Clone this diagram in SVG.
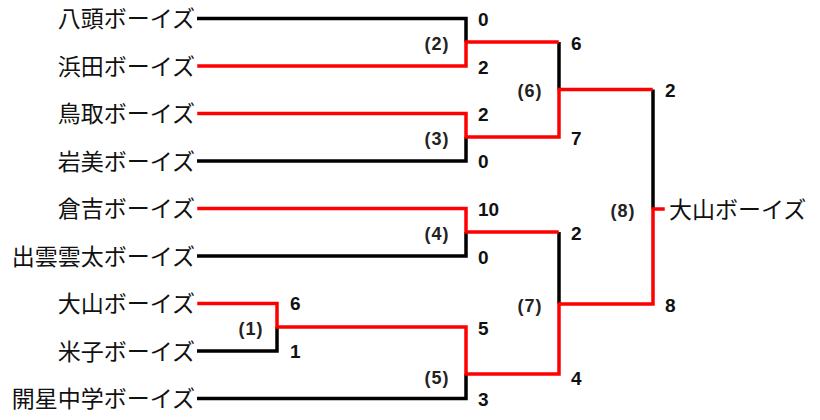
<svg xmlns="http://www.w3.org/2000/svg" width="820" height="420" viewBox="0 0 820 420">
<style>
.team{font-family:"Noto Sans CJK JP","Noto Sans",sans-serif;font-size:23px;fill:#111}
.tl{text-anchor:end}
.score{font-family:"Liberation Sans","Noto Sans",sans-serif;font-size:19px;font-weight:bold;fill:#111}
.match{font-family:"Liberation Sans","Noto Sans",sans-serif;font-size:18px;font-weight:bold;fill:#222;text-anchor:middle;letter-spacing:1px}
.lose{fill:none;stroke:#000;stroke-width:3.5;stroke-linejoin:miter}
.win{fill:none;stroke:#ff0000;stroke-width:3.5;stroke-linejoin:miter;stroke-linecap:square}
</style>
<rect width="820" height="420" fill="#fff"/>
<g id="connectors">
<path class="lose" d="M197 18.5 H466 V42"/>
<path class="lose" d="M197 161 H466 V137"/>
<path class="lose" d="M197 256 H466 V232"/>
<path class="lose" d="M197 351 H277 V327"/>
<path class="lose" d="M197 398.5 H466 V374"/>
<path class="lose" d="M559 42 V89.5"/>
<path class="lose" d="M559 232 V304"/>
<path class="lose" d="M653 89.5 V209"/>
<path class="win" d="M199 66 H466 V42 H557"/>
<path class="win" d="M199 113.5 H466 V137 H559 V89.5 H651"/>
<path class="win" d="M199 208.5 H466 V232 H557"/>
<path class="win" d="M199 303.5 H277 V327 H466 V374 H559 V304 H653 V209 H663"/>
</g>
<g id="team-yazu"><text class="team tl" x="195" y="27">八頭ボーイズ</text></g>
<g id="team-hamada"><text class="team tl" x="195" y="74.5">浜田ボーイズ</text></g>
<g id="team-tottori"><text class="team tl" x="195" y="122">鳥取ボーイズ</text></g>
<g id="team-iwami"><text class="team tl" x="195" y="169.5">岩美ボーイズ</text></g>
<g id="team-kurayoshi"><text class="team tl" x="195" y="217">倉吉ボーイズ</text></g>
<g id="team-izumo"><text class="team tl" x="195" y="264.5">出雲雲太ボーイズ</text></g>
<g id="team-daisen"><text class="team tl" x="195" y="312">大山ボーイズ</text></g>
<g id="team-yonago"><text class="team tl" x="195" y="359.5">米子ボーイズ</text></g>
<g id="team-kaisei"><text class="team tl" x="195" y="407">開星中学ボーイズ</text></g>
<g id="champion"><text class="team" x="669" y="217.5">大山ボーイズ</text></g>
<g id="match-1"><text class="match" x="251" y="335">(1)</text>
<text class="score" x="290" y="310">6</text><text class="score" x="290" y="358">1</text></g>
<g id="match-2"><text class="match" x="437" y="50">(2)</text>
<text class="score" x="478" y="26">0</text><text class="score" x="478" y="74">2</text></g>
<g id="match-3"><text class="match" x="437" y="145">(3)</text>
<text class="score" x="478" y="121">2</text><text class="score" x="478" y="168">0</text></g>
<g id="match-4"><text class="match" x="437" y="240">(4)</text>
<text class="score" x="478" y="216">10</text><text class="score" x="478" y="264">0</text></g>
<g id="match-5"><text class="match" x="437" y="384">(5)</text>
<text class="score" x="478" y="335">5</text><text class="score" x="478" y="406">3</text></g>
<g id="match-6"><text class="match" x="530" y="97">(6)</text>
<text class="score" x="571" y="50">6</text><text class="score" x="571" y="145">7</text></g>
<g id="match-7"><text class="match" x="530" y="312">(7)</text>
<text class="score" x="571" y="240">2</text><text class="score" x="571" y="385">4</text></g>
<g id="match-8"><text class="match" x="623" y="217">(8)</text>
<text class="score" x="665" y="97">2</text><text class="score" x="665" y="312">8</text></g>
</svg>
